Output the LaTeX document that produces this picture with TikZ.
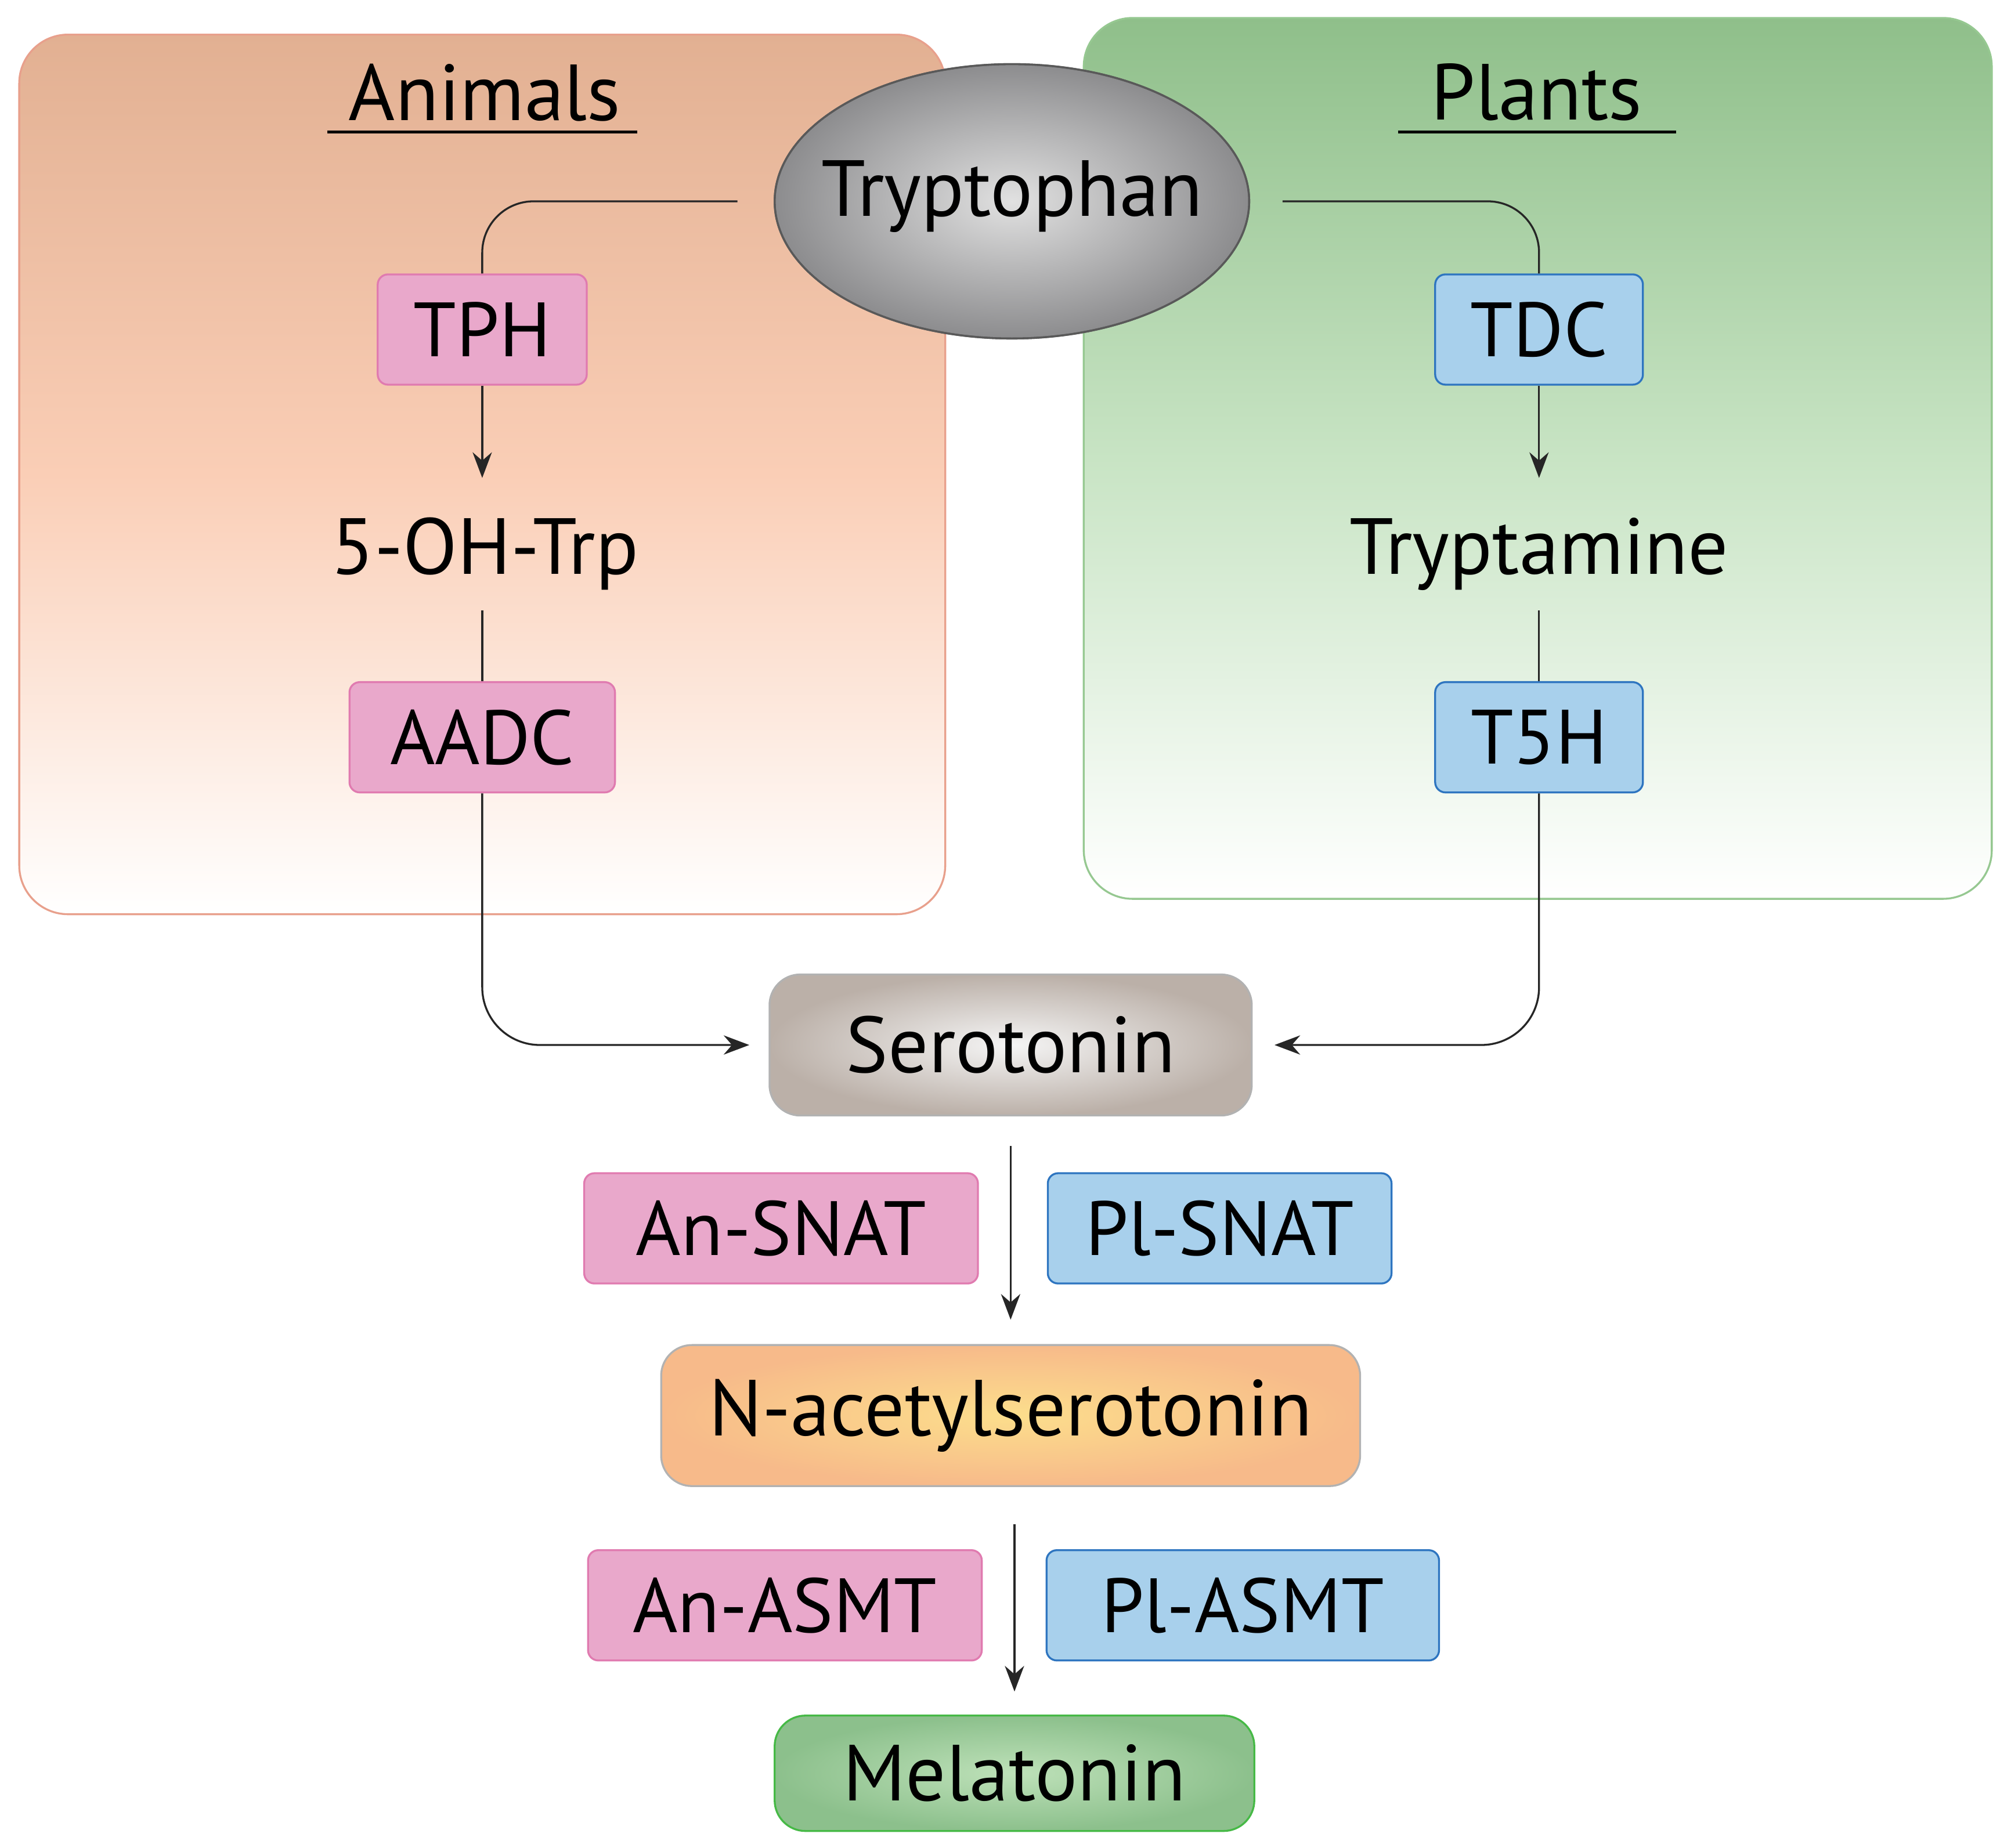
\documentclass[tikz,border=0pt]{standalone}
\usepackage{fontspec}
\setmainfont{PT Sans}
\usetikzlibrary{shapes.geometric,arrows.meta}
\definecolor{pinkfill}{HTML}{E9A8CB}
\definecolor{pinkline}{HTML}{E07BB0}
\definecolor{bluefill}{HTML}{A8D0EC}
\definecolor{blueline}{HTML}{2E75C0}
\tikzset{
  enz/.style={draw, line width=1.5pt, rounded corners=8pt, minimum height=86pt, inner sep=0pt, font=\fontsize{60}{62}\selectfont},
  anim/.style={enz, fill=pinkfill, draw=pinkline},
  plant/.style={enz, fill=bluefill, draw=blueline},
  met/.style={draw=gray!60, line width=1.5pt, rounded corners=24pt, inner sep=0pt, font=\fontsize{62}{64}\selectfont},
  plain/.style={inner sep=0pt, font=\fontsize{62}{64}\selectfont},
  flow/.style={line width=1.5pt, draw=black!85},
  tip/.style={flow, -{Stealth[length=20pt,width=15pt]}},
}
\begin{document}
\begin{tikzpicture}[x=1pt,y=1pt,yscale=-1]
\useasboundingbox (0,0) rectangle (1568,1441);

% kingdom panels
\shade[rounded corners=38pt, top color={rgb,255:red,226;green,176;blue,146}, bottom color=white, middle color={rgb,255:red,250;green,206;blue,182}]
  (15,27) rectangle (737,713);
\draw[rounded corners=38pt, line width=1.5pt, color={rgb,255:red,232;green,160;blue,140}] (15,27) rectangle (737,713);
\shade[rounded corners=38pt, top color={rgb,255:red,143;green,191;blue,138}, bottom color=white, middle color={rgb,255:red,200;green,228;blue,196}]
  (845,14) rectangle (1553,701);
\draw[rounded corners=38pt, line width=1.5pt, color={rgb,255:red,150;green,200;blue,145}] (845,14) rectangle (1553,701);

% headings
\node[plain] (animals) at (378,72) {Animals};
\draw[line width=2.5pt] (255,103) -- (497,103);
\node[plain] (plants) at (1198,72) {Plants};
\draw[line width=2.5pt] (1090,103) -- (1307,103);

% metabolites
\shade[draw=gray!70!black, line width=1.5pt, inner color={rgb,255:red,225;green,225;blue,225}, outer color={rgb,255:red,140;green,140;blue,142}]
  (789,157) ellipse [x radius=185pt, y radius=107pt];
\draw[gray!70!black, line width=1.5pt] (789,157) ellipse [x radius=185pt, y radius=107pt];
\node[plain] (trp) at (789,153) {Tryptophan};
\node[plain] (ohtrp) at (378,432) {5-OH-Trp};
\node[plain] (tryptamine) at (1200,432) {Tryptamine};
\node[met, minimum width=376pt, minimum height=110pt, inner color=white!92!gray, outer color={rgb,255:red,187;green,176;blue,168}] (sero) at (788,815) {Serotonin};
\node[met, minimum width=545pt, minimum height=110pt, inner color={rgb,255:red,252;green,222;blue,140}, outer color={rgb,255:red,247;green,186;blue,138}] (nas) at (788,1104) {N-acetylserotonin};
\node[met, minimum width=374pt, minimum height=90pt, draw=green!45!gray, inner color={rgb,255:red,190;green,225;blue,185}, outer color={rgb,255:red,140;green,192;blue,140}] (mel) at (791,1383) {Melatonin};

% enzymes
\node[anim, minimum width=163pt] (tph) at (376,257) {TPH};
\node[anim, minimum width=207pt] (aadc) at (376,575) {AADC};
\node[plant, minimum width=162pt] (tdc) at (1200,257) {TDC};
\node[plant, minimum width=162pt] (tfh) at (1200,575) {T5H};
\node[anim, minimum width=307pt] (ansnat) at (609,958) {An-SNAT};
\node[plant, minimum width=268pt] (plsnat) at (951,958) {Pl-SNAT};
\node[anim, minimum width=307pt] (anasmt) at (612,1252) {An-ASMT};
\node[plant, minimum width=306pt] (plasmt) at (969,1252) {Pl-ASMT};

% connectors
\coordinate (tl) at (575,157);
\coordinate (tr) at (1000,157);
\draw[flow, rounded corners=40pt] (tl) -| (tph.north);
\draw[flow, rounded corners=40pt] (tr) -| (tdc.north);
\draw[tip] (tph.south) -- ++(0,72);
\draw[tip] (tdc.south) -- ++(0,72);
\draw[flow] (aadc.north |- 0,476) -- (aadc.north);
\draw[flow] (tfh.north |- 0,476) -- (tfh.north);
\draw[tip, rounded corners=45pt] (aadc.south) |- ([xshift=-15pt]sero.west);
\draw[tip, rounded corners=45pt] (tfh.south) |- ([xshift=17pt]sero.east);
\draw[tip] ([yshift=23pt]sero.south) -- ([yshift=-19pt]nas.north);
\draw[tip] ([xshift=3pt,yshift=29pt]nas.south) -- ([yshift=-18pt]mel.north);
\end{tikzpicture}
\end{document}
